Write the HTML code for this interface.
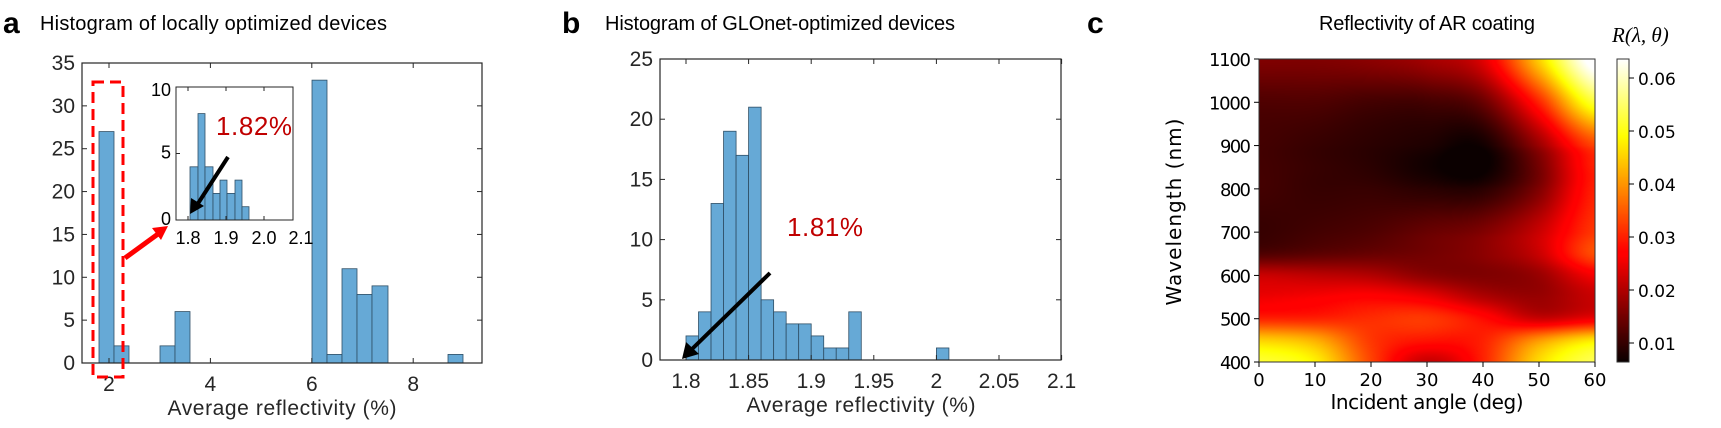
<!DOCTYPE html>
<html><head><meta charset="utf-8"><style>
html,body{margin:0;padding:0;background:#fff;}
#wrap{position:relative;width:1721px;height:428px;overflow:hidden;}
svg{position:absolute;left:0;top:0;}
#hm{position:absolute;left:1259px;top:59px;width:336px;height:303px;}
#cb{position:absolute;left:1617px;top:59px;width:12px;height:303px;}
</style></head><body><div id="wrap">
<canvas id="hm" width="336" height="303"></canvas>
<canvas id="cb" width="12" height="303"></canvas>
<svg id="s" width="1721" height="428" xmlns="http://www.w3.org/2000/svg" font-family="Liberation Sans, Arial, sans-serif"></svg>
</div>
<script>
var s='';
function T(x,y,t,o){o=o||{};s+='<text x="'+x+'" y="'+y+'" font-size="'+(o.fs||16)+'" fill="'+(o.c||'#262626')+'" text-anchor="'+(o.a||'middle')+'"'+(o.extra||'')+'>'+t+'</text>';}
function L(x1,y1,x2,y2,c,w,extra){s+='<line x1="'+x1+'" y1="'+y1+'" x2="'+x2+'" y2="'+y2+'" stroke="'+(c||'#262626')+'" stroke-width="'+(w||1)+'"'+(extra||'')+'/>';}
function R(x,y,w,h,f,st,sw){s+='<rect x="'+x+'" y="'+y+'" width="'+w+'" height="'+h+'" fill="'+f+'" stroke="'+(st||'none')+'" stroke-width="'+(sw||1)+'"/>';}
var bf='#66a9d6',be='#2f4f66';
T(3,33,'a',{fs:30,a:'start',c:'#000',extra:' font-weight="bold"'});
T(40,30,'Histogram of locally optimized devices',{fs:20,a:'start',c:'#000',extra:' textLength="347"'});
T(562,33,'b',{fs:30,a:'start',c:'#000',extra:' font-weight="bold"'});
T(605,30,'Histogram of GLOnet-optimized devices',{fs:20,a:'start',c:'#000',extra:' textLength="350"'});
T(1087,33,'c',{fs:30,a:'start',c:'#000',extra:' font-weight="bold"'});
T(1427,30,'Reflectivity of AR coating',{fs:20,c:'#000',extra:' textLength="216"'});
s+='<text x="1612" y="42" font-family="Liberation Serif, serif" font-style="italic" font-size="21" fill="#000">R(λ, θ)</text>';
// ---- panel a
var ax={l:82,r:482,t:63,b:363};
function ya(v){return ax.b-v*300/35;}
function xa(v){return 109+(v-2)*50.7;}
var barsA=[[99,114,27],[114,129,2],[160,175,2],[175,190,6],[312,327,33],[327,342,1],[342,357,11],[357,372,8],[372,388,9],[448,463,1]];
barsA.forEach(function(b){R(b[0],ya(b[2]),b[1]-b[0],ya(0)-ya(b[2]),bf,be,0.8);});
R(ax.l,ax.t,ax.r-ax.l,ax.b-ax.t,'none','#262626',1.2);
for(var v=0;v<=35;v+=5){var y=ya(v);L(ax.l,y,ax.l+5,y);L(ax.r,y,ax.r-5,y);T(ax.l-7,y+7,v,{fs:21,a:'end'});}
[2,4,6,8].forEach(function(v){var x=xa(v);L(x,ax.b,x,ax.b-5);L(x,ax.t,x,ax.t+5);T(x,ax.b+28,v,{fs:21});});
T(282,415,'Average reflectivity (%)',{fs:21,extra:' textLength="229"'});
// inset
var ix={l:176,r:293,t:87,b:220};
function yi(v){return ix.b-v*13.3;}
R(ix.l,ix.t,ix.r-ix.l,ix.b-ix.t,'#fff','none');
var eds=[190,198,205,213,220,227,235,242,249],hs=[4,8,4,2,3,2,3,1];
for(var i=0;i<8;i++)R(eds[i],yi(hs[i]),eds[i+1]-eds[i],yi(0)-yi(hs[i]),bf,be,0.8);
R(ix.l,ix.t,ix.r-ix.l,ix.b-ix.t,'none','#262626',1);
[0,5,10].forEach(function(v){var y=yi(v);L(ix.l,y,ix.l+4,y);T(ix.l-5,y+(v==10?9:5),v,{fs:18,a:'end',c:'#000'});});
[[188,'1.8'],[226,'1.9'],[264,'2.0'],[301,'2.1']].forEach(function(t){if(t[0]<ix.r){L(t[0],ix.b,t[0],ix.b-4);L(t[0],ix.t,t[0],ix.t+4);}T(t[0],ix.b+24,t[1],{fs:18,c:'#000'});});
T(216,135,'1.82%',{fs:26,a:'start',c:'#c00000',extra:' textLength="76"'});
L(228,157,197,205,'#000',4);
s+='<polygon points="190,214 191,198 204,206" fill="#000"/>';
s+='<rect x="93" y="82" width="30" height="295" fill="none" stroke="#ff0000" stroke-width="3" stroke-dasharray="11,6"/>';
L(125,258,158,234,'#ff0000',5);
s+='<polygon points="168,226 152,228 161,240" fill="#ff0000"/>';
// ---- panel b
var bx={l:660,r:1061,t:59,b:360};
function yb(v){return bx.b-v*301/25;}
function xb(v){return 686+(v-1.8)/0.05*62.6;}
var hb=[2,4,13,19,17,21,5,4,3,3,2,1,1,4];
for(var i=0;i<hb.length;i++){var x0=xb(1.8+i*0.01),x1=xb(1.81+i*0.01);R(x0,yb(hb[i]),x1-x0,yb(0)-yb(hb[i]),bf,be,0.8);}
R(xb(2.0),yb(1),xb(2.01)-xb(2.0),yb(0)-yb(1),bf,be,0.8);
R(bx.l,bx.t,bx.r-bx.l,bx.b-bx.t,'none','#262626',1.2);
for(var v=0;v<=25;v+=5){var y=yb(v);L(bx.l,y,bx.l+5,y);L(bx.r,y,bx.r-5,y);T(bx.l-7,y+7,v,{fs:21,a:'end'});}
['1.8','1.85','1.9','1.95','2','2.05','2.1'].forEach(function(t,i){var x=xb(1.8+i*0.05);L(x,bx.b,x,bx.b-5);L(x,bx.t,x,bx.t+5);T(x,bx.b+28,t,{fs:21});});
T(861,412,'Average reflectivity (%)',{fs:21,extra:' textLength="229"'});
T(787,236,'1.81%',{fs:26,a:'start',c:'#c00000',extra:' textLength="76"'});
L(770,273,690,351,'#000',4);
s+='<polygon points="682,359 686,342 699,354" fill="#000"/>';
// ---- panel c axes
var cx={l:1259,r:1595,t:59,b:362};
R(cx.l,cx.t,cx.r-cx.l,cx.b-cx.t,'none','#333',1);
var df='DejaVu Sans, sans-serif';
for(var w=400;w<=1100;w+=100){var y=cx.b-(w-400)*303/700;L(cx.l-5,y,cx.l,y,'#000');s+='<text x="'+(cx.l-8)+'" y="'+(y+7)+'" font-family="'+df+'" font-size="18" fill="#000" text-anchor="end" textLength="'+(w>=1000?42:31)+'">'+w+'</text>';}
for(var a=0;a<=60;a+=10){var x=cx.l+a*336/60;L(x,cx.b,x,cx.b+5,'#000');s+='<text x="'+x+'" y="'+(cx.b+24)+'" font-family="'+df+'" font-size="18" fill="#000" text-anchor="middle">'+a+'</text>';}
s+='<text x="1427" y="409" font-family="'+df+'" font-size="20" fill="#000" text-anchor="middle" textLength="193">Incident angle (deg)</text>';
s+='<text transform="translate(1181,212) rotate(-90)" font-family="'+df+'" font-size="20" fill="#000" text-anchor="middle" textLength="187">Wavelength (nm)</text>';
R(1617,59,12,303,'none','#333',1);
[0.01,0.02,0.03,0.04,0.05,0.06].forEach(function(v){var y=343-(v-0.01)*5300;L(1629,y,1634,y,'#000');s+='<text x="1638" y="'+(y+7)+'" font-family="'+df+'" font-size="17" fill="#000">'+v.toFixed(2)+'</text>';});
document.getElementById('s').innerHTML=s;
// ---- heatmap
var vmin=0.0064,vmax=0.0636;
function hot(v){var t=(v-vmin)/(vmax-vmin);t=Math.max(0,Math.min(1,t));var r=Math.min(1,0.0416+t/0.365),g=Math.max(0,Math.min(1,(t-0.365)/0.381)),b=Math.max(0,Math.min(1,(t-0.746)/0.254));return [r*255,g*255,b*255];}
var A=[0,10,20,30,40,50,60];
var W=[400,450,500,550,600,650,700,800,850,900,1000,1100];
var G=[
[0.052,0.048,0.033,0.022,0.030,0.046,0.054],
[0.045,0.042,0.032,0.029,0.030,0.040,0.047],
[0.030,0.030,0.031,0.032,0.028,0.022,0.025],
[0.025,0.026,0.027,0.025,0.020,0.018,0.022],
[0.022,0.021,0.020,0.017,0.016,0.018,0.026],
[0.012,0.013,0.014,0.015,0.017,0.022,0.034],
[0.010,0.011,0.012,0.014,0.016,0.022,0.032],
[0.011,0.010,0.010,0.009,0.009,0.016,0.030],
[0.011,0.010,0.009,0.007,0.006,0.015,0.030],
[0.011,0.010,0.009,0.008,0.007,0.018,0.033],
[0.012,0.012,0.011,0.011,0.014,0.030,0.052],
[0.016,0.016,0.017,0.019,0.024,0.045,0.066]];
function seg(arr,x){var n=arr.length;if(x<=arr[0])return [0,0];if(x>=arr[n-1])return [n-2,1];for(var i=0;i<n-1;i++)if(x<=arr[i+1])return [i,(x-arr[i])/(arr[i+1]-arr[i])];}
function cr(p0,p1,p2,p3,t){return 0.5*((2*p1)+(-p0+p2)*t+(2*p0-5*p1+4*p2-p3)*t*t+(-p0+3*p1-3*p2+p3)*t*t*t);}
function g(i,j){i=Math.max(0,Math.min(W.length-1,i));j=Math.max(0,Math.min(A.length-1,j));return G[i][j];}
function val(a,w){var sa=seg(A,a),sw=seg(W,w);var rows=[];for(var di=-1;di<=2;di++){var i=sw[0]+di;rows.push(cr(g(i,sa[0]-1),g(i,sa[0]),g(i,sa[0]+1),g(i,sa[0]+2),sa[1]));}return cr(rows[0],rows[1],rows[2],rows[3],sw[1]);}
var c=document.getElementById('hm').getContext('2d');var im=c.createImageData(336,303);
for(var y=0;y<303;y++){var w=1100-y*700/302;for(var x=0;x<336;x++){var a=x*60/335;var col=hot(val(a,w));var k=(y*336+x)*4;im.data[k]=col[0];im.data[k+1]=col[1];im.data[k+2]=col[2];im.data[k+3]=255;}}
c.putImageData(im,0,0);
var c2=document.getElementById('cb').getContext('2d');var im2=c2.createImageData(12,303);
for(var y=0;y<303;y++){var v=vmax-(vmax-vmin)*y/302;var col=hot(v);for(var x=0;x<12;x++){var k=(y*12+x)*4;im2.data[k]=col[0];im2.data[k+1]=col[1];im2.data[k+2]=col[2];im2.data[k+3]=255;}}
c2.putImageData(im2,0,0);
</script></body></html>
